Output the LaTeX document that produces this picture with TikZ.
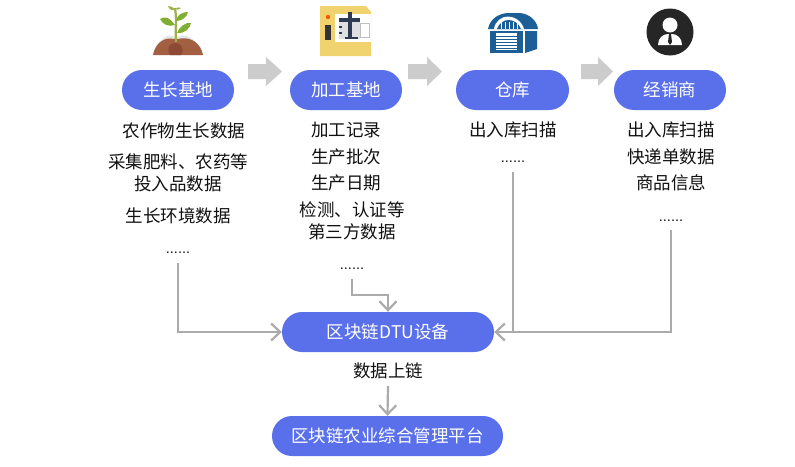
\documentclass[tikz,border=0pt]{standalone}
\usepackage{fontspec}
\setmainfont{Noto Sans CJK SC}
\newfontfamily\dotfont{Liberation Sans}
\usetikzlibrary{arrows.meta}
\definecolor{pill}{HTML}{5A70EB}
\definecolor{conn}{HTML}{ABABAB}
\definecolor{blockar}{HTML}{CCCCCC}
\definecolor{txt}{HTML}{111111}
\definecolor{soil}{HTML}{A25F42}
\definecolor{soild}{HTML}{8C4A35}
\definecolor{leaf}{HTML}{7FAE33}
\definecolor{stem}{HTML}{9DB04A}
\definecolor{mach}{HTML}{F0D36E}
\definecolor{machd}{HTML}{2F3A55}
\definecolor{ware}{HTML}{1B5F96}
\tikzset{
  x=1pt,y=-1pt,
  pillbox/.style={fill=pill,rounded corners=20pt,minimum height=40pt,text=white,inner sep=0pt,font=\fontsize{17.5}{20}\selectfont},
  info/.style={text=txt,inner sep=0pt,yshift=-0.5pt,font=\fontsize{17.5}{20}\selectfont},
  dotsn/.style={text=txt,inner sep=0pt,yshift=-3.5pt,font=\dotfont\fontsize{14.5}{16}\selectfont},
  link/.style={draw=conn,line width=2.2pt},
  linkar/.style={link,-{Straight Barb[length=9pt,width=17pt,line width=2.2pt]}},
  blockarrow/.style={fill=blockar,draw=none}
}
\begin{document}
\begin{tikzpicture}
\useasboundingbox (0,0) rectangle (795,466);
\fill[white] (0,0) rectangle (795,466);

% pills
\node[pillbox,minimum width=112pt] (a) at (178,90) {生长基地};
\node[pillbox,minimum width=112pt] (b) at (346,90) {加工基地};
\node[pillbox,minimum width=113pt] (c) at (512.5,90) {仓库};
\node[pillbox,minimum width=112pt] (d) at (670,90) {经销商};
\node[pillbox,minimum width=212pt] (dtu) at (388,332) {区块链DTU设备};
\node[pillbox,minimum width=231pt] (plat) at (387.5,436) {区块链农业综合管理平台};

% column 1
\node[info] (a1) at (184,130) {农作物生长数据};
\node[info] (a2) at (178,161) {采集肥料、农药等};
\node[info] (a3) at (178,183) {投入品数据};
\node[info] (a4) at (178,215) {生长环境数据};
\node[dotsn] (a5) at (178,249) {......};
% column 2
\node[info] (b1) at (346,129) {加工记录};
\node[info] (b2) at (346,156) {生产批次};
\node[info] (b3) at (346,182) {生产日期};
\node[info] (b4) at (352,209) {检测、认证等};
\node[info] (b5) at (352,231) {第三方数据};
\node[dotsn] (b6) at (352,265) {......};
% column 3
\node[info] (c1) at (513,129) {出入库扫描};
\node[dotsn] (c2) at (513,158) {......};
% column 4
\node[info] (d1) at (671,129) {出入库扫描};
\node[info] (d2) at (671,156) {快递单数据};
\node[info] (d3) at (671,182) {商品信息};
\node[dotsn] (d4) at (671,217) {......};
% label
\node[info] (up) at (388,370) {数据上链};

% connectors
\coordinate (a5s) at (178,263);
\coordinate (b6s) at (352,279);
\coordinate (c2s) at (513,172);
\coordinate (d4s) at (671,230);
\coordinate (upn) at (388,386);
\coordinate (bend) at (388,295);
\coordinate (b6c) at (352,295);
\draw[linkar] (a5s) |- (dtu.west);
\draw[linkar] (b6s) -- (b6c) -- (bend) -- (dtu.north);
\draw[link] (c2s) -- (513,332);
\draw[linkar] (d4s) |- (dtu.east);
\draw[linkar] (upn) -- (plat.north);

% block arrows
\fill[blockarrow] (248,64)--(266,64)--(266,57)--(282,71.5)--(266,86)--(266,79)--(248,79)--cycle;
\fill[blockarrow] (408,64)--(427,64)--(427,57)--(442,71.5)--(427,86)--(427,79)--(408,79)--cycle;
\fill[blockarrow] (581,64)--(598,64)--(598,57)--(613,71.5)--(598,86)--(598,79)--(581,79)--cycle;

% plant icon
\fill[gray!20] (156,46) .. controls (163,36) and (170,33) .. (176,38) .. controls (183,33) and (192,36) .. (199,46) -- cycle;
\fill[soil] (153,55) .. controls (155,44) and (163,38) .. (171,38.5) .. controls (175,39) and (178,40) .. (181,38.5) .. controls (192,37) and (201,44) .. (203,55) -- cycle;
\fill[soild] (170,55) .. controls (166,48) and (170,43) .. (175,43) .. controls (181,43) and (185,49) .. (181,55) -- cycle;
\draw[stem,line width=2.2pt] (176,42) .. controls (175,30) and (177,20) .. (175,8);
\fill[leaf] (175,25) .. controls (169,17) and (165,16) .. (160,19) .. controls (163,25) and (169,27) .. (175,25) -- cycle;
\fill[leaf] (177,33) .. controls (180,26) and (186,22) .. (191,23) .. controls (190,29) and (184,34) .. (177,33) -- cycle;
\fill[leaf] (176,21) .. controls (177,15) and (182,12) .. (188,12) .. controls (187,17) and (182,21) .. (176,21) -- cycle;
\fill[stem] (175,10) .. controls (173,7) and (171,6) .. (168,6) .. controls (169,9) and (171,11) .. (175,10) -- cycle;
\fill[stem] (175,9) .. controls (177,7) and (179,7) .. (181,8) .. controls (179,10) and (177,10) .. (175,9) -- cycle;

% machine icon
\fill[mach] (320,6) -- (366,6) -- (371,12) -- (371,56) -- (320,56) -- cycle;
\fill[white] (335,14) -- (371,14) -- (371,42) -- (335,42) -- cycle;
\fill[gray!25] (339,19) rectangle (360,39);
\draw[gray!50,line width=.8pt,fill=white] (360,23) rectangle (369,37);
\fill[machd] (339,18) rectangle (360,22);
\fill[machd] (348,12) rectangle (352,37);
\fill[machd] (345,37) rectangle (358,39);
\fill[machd] (339,26) rectangle (342,28);
\fill[machd] (339,32) rectangle (342,34);
\fill[black!80] (325,25) rectangle (331,40);
\fill[orange!70!red] (328,17) circle (2.2pt);

% warehouse icon
\fill[ware] (488,29) .. controls (490,18) and (500,13) .. (509,13) -- (520,13) .. controls (530,14) and (537,21) .. (538,29) -- cycle;
\fill[ware] (490,31) rectangle (523,53);
\fill[ware] (525,31) -- (537,31) -- (537,49) -- (525,53) -- cycle;
\fill[white] (494,29) .. controls (495,21) and (502,16.5) .. (508,16.5) .. controls (514,16.5) and (522,21) .. (524,29) -- cycle;
\fill[ware] (497,29) .. controls (499,23) and (504,20) .. (508.5,20) .. controls (513,20) and (519,23) .. (521,29) -- cycle;
\foreach \xx in {501,505,509,513,517} \draw[white,line width=.7pt] (\xx,21.5) -- (\xx,29);
\fill[white] (496,33) rectangle (517,50);
\foreach \yy in {36,39,42,45,48} \draw[ware,line width=1pt] (496,\yy) -- (517,\yy);

% person icon
\fill[black!85] (670,32) circle (23.5pt);
\fill[white] (670,25) circle (7.5pt);
\fill[white] (658,45) .. controls (658,38) and (663,34) .. (668,34) -- (672,34) .. controls (677,34) and (682,38) .. (682,45) -- cycle;
\fill[black!85] (669,34) -- (671,34) -- (672,42) -- (670,45) -- (668,42) -- cycle;
\end{tikzpicture}
\end{document}
